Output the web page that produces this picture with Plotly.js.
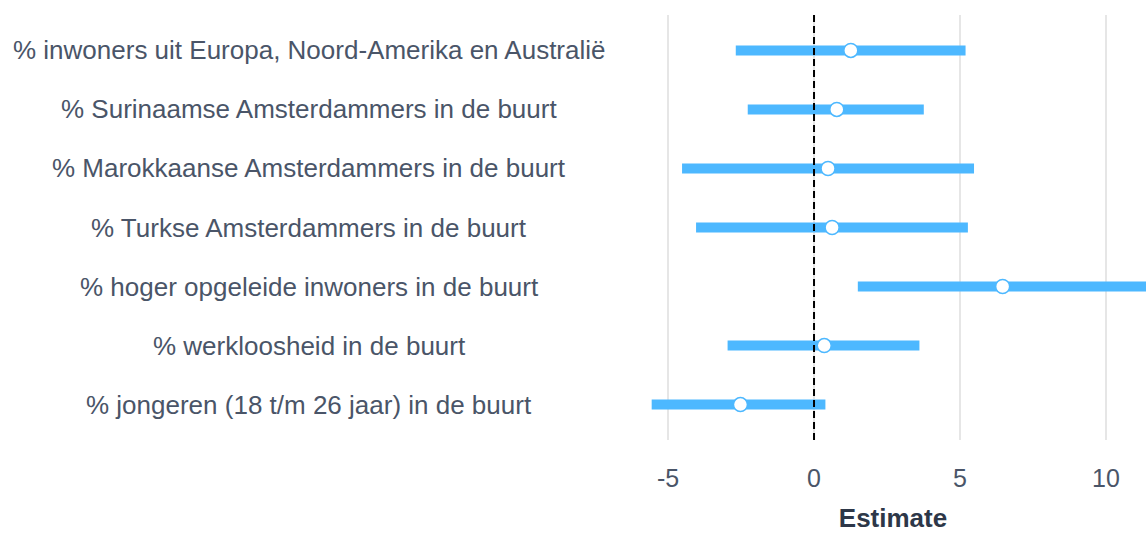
<!DOCTYPE html>
<html>
<head>
<meta charset="utf-8">
<script src="https://cdn.plot.ly/plotly-3.0.1.min.js"></script>
<style>html,body{margin:0;padding:0;background:#fff;}#chart{width:1146px;height:533px;}</style>
</head>
<body>
<div id="chart"></div>
<script>
var terms = [
  "% inwoners uit Europa, Noord-Amerika en Australië",
  "% Surinaamse Amsterdammers in de buurt",
  "% Marokkaanse Amsterdammers in de buurt",
  "% Turkse Amsterdammers in de buurt",
  "% hoger opgeleide inwoners in de buurt",
  "% werkloosheid in de buurt",
  "% jongeren (18 t/m 26 jaar) in de buurt"
];
var estimate = [1.26, 0.78, 0.48, 0.62, 6.46, 0.35, -2.52];
var lower    = [-2.68, -2.27, -4.52, -4.04, 1.50, -2.96, -5.56];
var upper    = [5.19, 3.76, 5.48, 5.27, 11.42, 3.61, 0.39];
var xTicks   = [-5, 0, 5, 10];

var blue = "#4db8ff";
var fam = "'Liberation Sans', Arial, sans-serif";
var errPlus = upper.map(function(u, i){ return u - estimate[i]; });
var errMinus = estimate.map(function(e, i){ return e - lower[i]; });

var trace = {
  type: "scatter",
  mode: "markers",
  x: estimate,
  y: terms,
  error_x: {
    type: "data", symmetric: false,
    array: errPlus, arrayminus: errMinus,
    thickness: 10, width: 0, color: blue
  },
  marker: { size: 14, color: "#ffffff", line: { color: blue, width: 1.5 } },
  hoverinfo: "x+y",
  cliponaxis: true
};

var annotations = terms.map(function(t){
  return {
    xref: "paper", yref: "y", x: -0.654, y: t,
    text: t, showarrow: false, xanchor: "center", yanchor: "middle",
    font: { family: fam, size: 26, color: "#4a5568" }
  };
});

var layout = {
  width: 1146, height: 533,
  margin: { l: 640, r: 0, t: 15, b: 93 },
  paper_bgcolor: "#ffffff", plot_bgcolor: "#ffffff",
  showlegend: false,
  font: { family: fam, color: "#4a5568" },
  xaxis: {
    range: [-5.96, 11.37],
    tickvals: xTicks,
    ticktext: xTicks.map(String),
    showgrid: true, gridcolor: "#e6e6e6", gridwidth: 1.5,
    zeroline: false, showline: false,
    ticks: "outside", ticklen: 16, tickcolor: "rgba(0,0,0,0)",
    tickfont: { family: fam, size: 25, color: "#4a5568" },
    title: { text: "<b>Estimate</b>", font: { family: fam, size: 26, color: "#2d3748" }, standoff: 22 }
  },
  yaxis: {
    type: "category",
    categoryorder: "array", categoryarray: terms,
    range: [6.6, -0.6],
    showticklabels: false, showgrid: false, zeroline: false, showline: false, ticks: ""
  },
  shapes: [{
    type: "line", xref: "x", yref: "paper", x0: 0, x1: 0, y0: 0, y1: 1,
    line: { color: "#000000", width: 2, dash: "7px,4px" }, layer: "above"
  }],
  annotations: annotations
};

Plotly.newPlot("chart", [trace], layout, { displayModeBar: false, staticPlot: true });
</script>
</body>
</html>
